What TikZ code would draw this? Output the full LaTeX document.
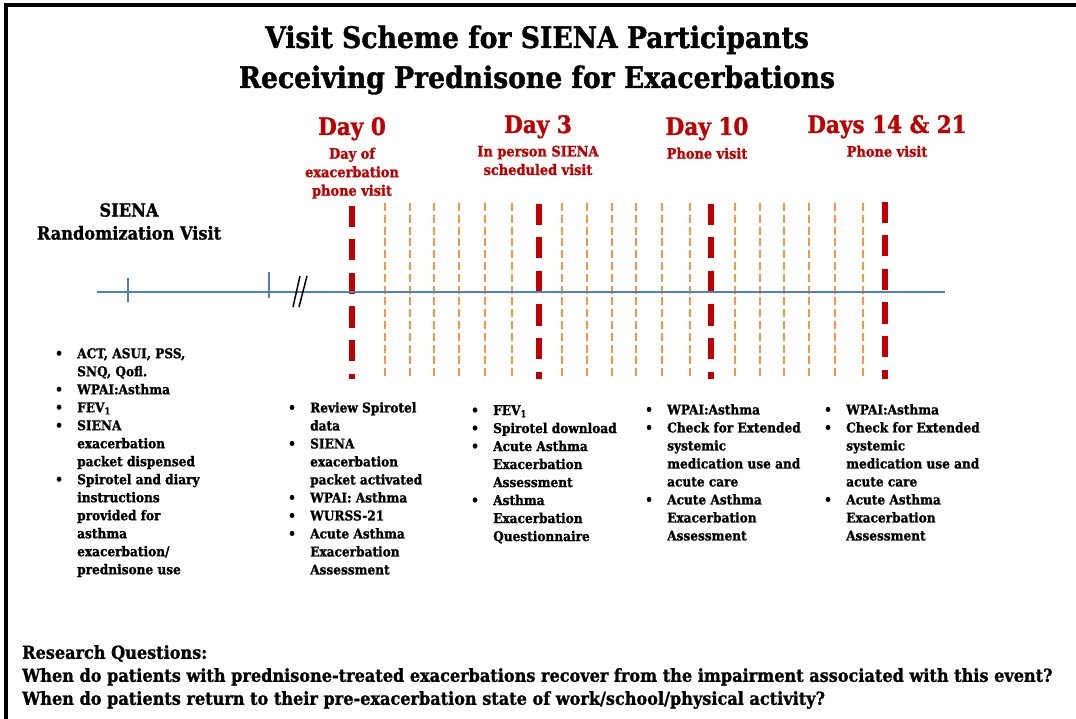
\documentclass[tikz,border=0pt]{standalone}
\usepackage{fontspec}
\setmainfont{DejaVu Serif Condensed}[BoldFeatures={FakeBold=1.2}]
\usetikzlibrary{positioning}

\definecolor{dayred}{HTML}{C00000}
\definecolor{lineblue}{HTML}{4F81BD}
\definecolor{dayorange}{HTML}{F79646}

\newcommand{\bul}{\makebox[22pt][l]{\textbullet}}
\newcommand{\ind}{\hspace*{22pt}}

\begin{document}
\begin{tikzpicture}[
    x=1pt, y=-1pt,
    title/.style={font=\bfseries\fontsize{29.6}{40}\selectfont, align=center, inner sep=0},
    dayhead/.style={anchor=base, inner sep=0, text=dayred, font=\bfseries\fontsize{24}{26}\selectfont},
    daysub/.style={inner sep=0, align=center, text=dayred, font=\bfseries\fontsize{14.4}{18.5}\selectfont},
    blk/.style={anchor=north west, inner sep=0, align=left, font=\bfseries\fontsize{13.5}{18}\selectfont},
    timeline/.style={lineblue, line width=2.5pt},
    tick/.style={lineblue, line width=2pt},
    dayline/.style={dayred, line width=5.5pt, dash pattern=on 21pt off 12.5pt},
    subline/.style={dayorange, line width=2pt, dash pattern=on 8pt off 3.8pt}
]
\useasboundingbox (0,0) rectangle (1076,719);
% Frame
\draw[line width=3.5pt] (6,719) -- (6,5) -- (1076,5);
% Title
\node[title] (ttl) at (537,60) {Visit Scheme for SIENA Participants\\
      Receiving Prednisone for Exacerbations};
% Day headings
\node[dayhead] (day0) at (352,135) {Day 0};
\node[daysub, below=7pt of day0] (day0s) {Day of\\exacerbation\\phone visit};
\node[dayhead] (day3) at (538,133) {Day 3};
\node[daysub, below=7pt of day3] (day3s) {In person SIENA\\scheduled visit};
\node[dayhead] (day10) at (707,135) {Day 10};
\node[daysub, below=7pt of day10] (day10s) {Phone visit};
\node[dayhead] (day14) at (887,133) {Days 14 \& 21};
\node[daysub, below=7pt of day14] (day14s) {Phone visit};
\node[anchor=north, inner sep=0, align=center,
      font=\bfseries\fontsize{18}{23}\selectfont] (rand) at (129,203)
      {SIENA\\Randomization Visit};
% Timeline
\coordinate (tlA) at (97,292);
\coordinate (tlB) at (945,292);
\foreach \x in {385,410,434,459,485,512,562,587,612,636,662,690,735,760,784,809,835,863}
    \draw[subline] (\x,203) -- (\x,378);
\foreach \x/\y in {352/206, 539/204, 711/204, 885/202}
    \draw[dayline] (\x,\y) -- (\x,379);
\draw[timeline] (tlA) -- (tlB);
\draw[tick] (128,278) -- (128,302);
\draw[tick] (269,272) -- (269,298);
\draw[line width=1.5pt] (293,307) -- (300,276);
\draw[line width=1.5pt] (299,307) -- (307,276);
% Visit contents
\node[blk] (b0) at (55,348) {\bul ACT, ASUI, PSS,\\ \ind SNQ, Qofl.\\ \bul WPAI:Asthma\\
      \bul FEV\textsubscript{1}\\ \bul SIENA\\ \ind exacerbation\\ \ind packet dispensed\\
      \bul Spirotel and diary\\ \ind instructions\\ \ind provided for\\ \ind asthma\\
      \ind exacerbation/\\ \ind prednisone use};
\node[blk] (b1) at (288,402) {\bul Review Spirotel\\ \ind data\\ \bul SIENA\\
      \ind exacerbation\\ \ind packet activated\\ \bul WPAI: Asthma\\ \bul WURSS-21\\
      \bul Acute Asthma\\ \ind Exacerbation\\ \ind Assessment};
\node[blk] (b2) at (471,405) {\bul FEV\textsubscript{1}\\ \bul Spirotel download\\
      \bul Acute Asthma\\ \ind Exacerbation\\ \ind Assessment\\ \bul Asthma\\
      \ind Exacerbation\\ \ind Questionnaire};
\node[blk] (b3) at (645,404) {\bul WPAI:Asthma\\ \bul Check for Extended\\ \ind systemic\\
      \ind medication use and\\ \ind acute care\\ \bul Acute Asthma\\ \ind Exacerbation\\
      \ind Assessment};
\node[blk] (b4) at (824,404) {\bul WPAI:Asthma\\ \bul Check for Extended\\ \ind systemic\\
      \ind medication use and\\ \ind acute care\\ \bul Acute Asthma\\ \ind Exacerbation\\
      \ind Assessment};
% Research questions
\node[anchor=north west, inner sep=0, align=left,
      font=\bfseries\fontsize{17.9}{23}\selectfont] (rq) at (22,645)
      {Research Questions:\\
       When do patients with prednisone-treated exacerbations recover from the impairment associated with this event?\\
       When do patients return to their pre-exacerbation state of work/school/physical activity?};
\end{tikzpicture}
\end{document}
